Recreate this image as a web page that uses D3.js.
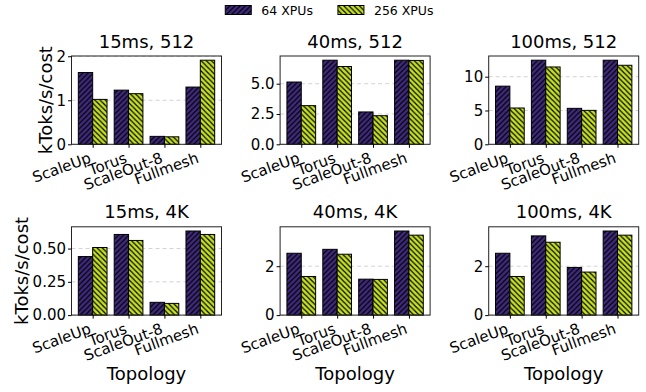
<!DOCTYPE html>
<html>
<head>
<meta charset="utf-8">
<script src="https://cdn.jsdelivr.net/npm/d3@7"></script>
<style>
  body { margin: 0; background: #fff; }
  svg { display: block; }
  text { font-family: "DejaVu Sans", sans-serif; fill: #000; }
</style>
</head>
<body>
<svg id="chart" width="646" height="392"></svg>
<script>
// Topology categories on every x axis
const topologies = ["ScaleUp", "Torus", "ScaleOut-8", "Fullmesh"];
// Series (legend entries)
const seriesNames = ["64 XPUs", "256 XPUs"];
// Panel titles, row by row
const panelTitles = ["15ms, 512", "40ms, 512", "100ms, 512", "15ms, 4K", "40ms, 4K", "100ms, 4K"];
// kToks/s/cost for 64 XPUs, one array per panel (ScaleUp, Torus, ScaleOut-8, Fullmesh)
const xpu64 = [
  [1.63, 1.23, 0.18, 1.30],
  [5.14, 6.94, 2.67, 6.94],
  [8.60, 12.44, 5.32, 12.44],
  [0.440, 0.606, 0.096, 0.632],
  [2.53, 2.69, 1.47, 3.44],
  [2.53, 3.24, 1.95, 3.44]
];
// kToks/s/cost for 256 XPUs
const xpu256 = [
  [1.02, 1.15, 0.17, 1.91],
  [3.19, 6.42, 2.36, 6.92],
  [5.37, 11.44, 5.02, 11.69],
  [0.508, 0.561, 0.088, 0.606],
  [1.58, 2.49, 1.46, 3.27],
  [1.58, 2.98, 1.76, 3.27]
];
// y ticks per panel
const yTickValues = [[0, 1, 2], [0, 2.5, 5], [0, 5, 10], [0, 0.25, 0.5], [0, 2], [0, 2]];
const yTickLabels = [["0", "1", "2"], ["0.0", "2.5", "5.0"], ["0", "5", "10"],
                     ["0.00", "0.25", "0.50"], ["0", "2"], ["0", "2"]];

const colors = ["#3f2a7d", "#c5df22"];
const hatchIds = ["hatch64", "hatch256"];

const svg = d3.select("#chart");
const defs = svg.append("defs");

// Diagonal hatch fills: "/" for 64 XPUs, "\" for 256 XPUs
function makeHatch(id, color, forward) {
  const s = 5.2;
  const p = defs.append("pattern")
    .attr("id", id)
    .attr("patternUnits", "userSpaceOnUse")
    .attr("width", s).attr("height", s);
  p.append("rect").attr("width", s).attr("height", s).attr("fill", color);
  const d = forward
    ? `M-1,1 L1,-1 M0,${s} L${s},0 M${s - 1},${s + 1} L${s + 1},${s - 1}`
    : `M-1,${s - 1} L1,${s + 1} M0,0 L${s},${s} M${s - 1},-1 L${s + 1},1`;
  p.append("path").attr("d", d).attr("stroke", "#000").attr("stroke-width", 1.2).attr("fill", "none");
}
makeHatch(hatchIds[0], colors[0], true);
makeHatch(hatchIds[1], colors[1], false);

// Grid of panels
const colX = [71.5, 280.1, 488.7];
const rowY = [56, 226.8];
const yLabelX = [51.5, 28];   // baseline of the rotated y label, per row
const pw = 150, ph = 88.3;
const tickLen = 3.5, yTickPad = 2, xTickPad = 3.5;
const tickFont = 15, titleFont = 18, labelFont = 18;
const rot = 20;
const barW = 0.4;

panelTitles.forEach((title, pi) => {
  const row = Math.floor(pi / 3), col = pi % 3;
  const x0 = colX[col], y0 = rowY[row];
  const vals = [xpu64[pi], xpu256[pi]];
  const ymax = d3.max(vals.flat()) * 1.05;

  const x = d3.scaleLinear()
    .domain([-barW - 0.19, topologies.length - 1 + barW + 0.19])
    .range([x0, x0 + pw]);
  const y = d3.scaleLinear().domain([0, ymax]).range([y0 + ph, y0]);

  const g = svg.append("g");

  // horizontal dashed grid
  g.append("g").selectAll("line")
    .data(yTickValues[pi])
    .join("line")
    .attr("x1", x0).attr("x2", x0 + pw)
    .attr("y1", d => y(d)).attr("y2", d => y(d))
    .attr("stroke", "#b0b0b0").attr("stroke-opacity", 0.7)
    .attr("stroke-width", 0.8).attr("stroke-dasharray", "4,3");

  // bars
  vals.forEach((series, si) => {
    g.append("g").selectAll("rect")
      .data(series)
      .join("rect")
      .attr("x", (d, i) => x(i - barW + si * barW))
      .attr("width", (d, i) => x(i + si * barW) - x(i - barW + si * barW))
      .attr("y", d => y(d))
      .attr("height", d => y(0) - y(d))
      .attr("fill", `url(#${hatchIds[si]})`)
      .attr("stroke", "#000").attr("stroke-width", 1);
  });

  // frame
  g.append("rect")
    .attr("x", x0).attr("y", y0).attr("width", pw).attr("height", ph)
    .attr("fill", "none").attr("stroke", "#222").attr("stroke-width", 1);

  // y axis
  const yAxis = g.append("g")
    .attr("transform", `translate(${x0},0)`)
    .call(d3.axisLeft(y)
      .tickValues(yTickValues[pi])
      .tickFormat((d, i) => yTickLabels[pi][i])
      .tickSize(tickLen).tickPadding(yTickPad));
  yAxis.select(".domain").remove();
  yAxis.selectAll("line").attr("stroke", "#000").attr("stroke-width", 1);
  yAxis.selectAll("text").attr("font-size", tickFont).attr("font-family", "DejaVu Sans");

  // x axis with rotated labels
  const xAxis = g.append("g")
    .attr("transform", `translate(0,${y0 + ph})`)
    .call(d3.axisBottom(x)
      .tickValues(d3.range(topologies.length))
      .tickFormat(i => topologies[i])
      .tickSize(tickLen));
  xAxis.select(".domain").remove();
  xAxis.selectAll("line").attr("stroke", "#000").attr("stroke-width", 1);
  const lineH = 0.99 * tickFont, desc = 0.232 * tickFont;
  const rad = rot * Math.PI / 180;
  xAxis.selectAll("text")
    .attr("font-size", tickFont).attr("font-family", "DejaVu Sans")
    .attr("text-anchor", "end")
    .attr("x", 0).attr("dy", null)
    .attr("y", -desc)
    .attr("transform", `translate(0,${tickLen + xTickPad + lineH * Math.cos(rad)}) rotate(${-rot})`);

  // title
  g.append("text")
    .attr("x", x0 + pw / 2).attr("y", y0 - 8.5)
    .attr("text-anchor", "middle").attr("font-size", titleFont)
    .text(title);

  // y label on the first column
  if (col === 0) {
    g.append("text")
      .attr("transform", `translate(${yLabelX[row]},${y0 + ph / 2}) rotate(-90)`)
      .attr("text-anchor", "middle").attr("font-size", labelFont)
      .text("kToks/s/cost");
  }

  // x label on the bottom row
  if (row === 1) {
    g.append("text")
      .attr("x", x0 + pw / 2).attr("y", 380)
      .attr("text-anchor", "middle").attr("font-size", labelFont)
      .text("Topology");
  }
});

// Legend, centered across the top
const legendFont = 12.5;
const patchW = 26, patchH = 9, textGap = 10, colGap = 25;
const legend = svg.append("g");
const items = legend.selectAll("g").data(seriesNames).join("g");
items.append("rect")
  .attr("width", patchW).attr("height", patchH).attr("y", 5.5)
  .attr("fill", (d, i) => `url(#${hatchIds[i]})`)
  .attr("stroke", "#000").attr("stroke-width", 1);
items.append("text")
  .attr("x", patchW + textGap).attr("y", 14.5)
  .attr("font-size", legendFont)
  .text(d => d);
const widths = [];
items.each(function () {
  const tw = d3.select(this).select("text").node().getComputedTextLength();
  widths.push(patchW + textGap + tw);
});
const total = d3.sum(widths) + colGap * (widths.length - 1);
let lx = 329.4 - total / 2;
items.attr("transform", (d, i) => {
  const t = `translate(${lx},0)`;
  lx += widths[i] + colGap;
  return t;
});
</script>
</body>
</html>
